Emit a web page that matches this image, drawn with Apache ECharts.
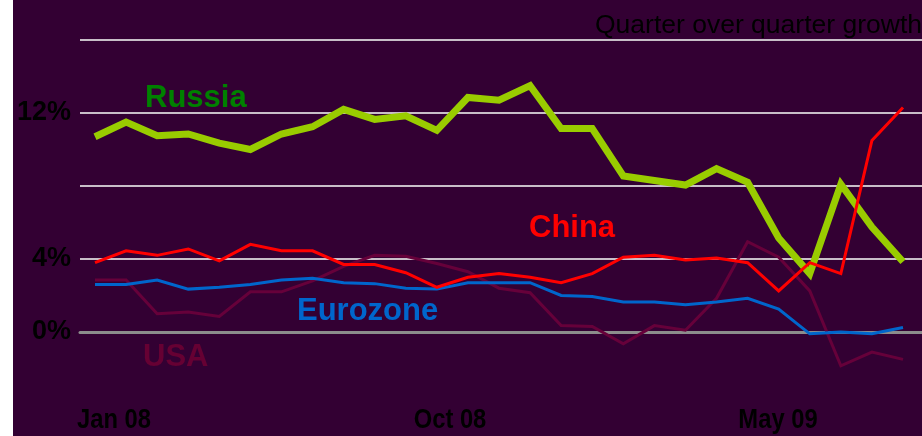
<!DOCTYPE html>
<html>
<head>
<meta charset="utf-8">
<script src="https://cdn.jsdelivr.net/npm/echarts@6/dist/echarts.min.js"></script>
<style>
  html, body { margin: 0; padding: 0; background: #ffffff; }
  #chart {
    width: 922px; height: 436px;
    background: linear-gradient(to right, #ffffff 0, #ffffff 13px, #330033 13px, #330033 100%);
  }
</style>
</head>
<body>
<div id="chart"></div>
<script>
// Quarter-over-quarter growth, 27 observations from Jan 08 onward
const periods = Array.from({ length: 27 }, (_, i) => 'P' + (i + 1));

const russia   = [10.7, 11.5, 10.75, 10.85, 10.35, 10.0, 10.85, 11.25, 12.2, 11.65, 11.85, 11.05, 12.85, 12.7, 13.5, 11.15, 11.15, 8.55, 8.3, 8.05, 8.95, 8.2, 5.15, 3.2, 8.1, 5.75, 3.85];
const china    = [3.8, 4.45, 4.2, 4.55, 3.9, 4.8, 4.45, 4.45, 3.7, 3.7, 3.25, 2.45, 3.0, 3.2, 3.0, 2.7, 3.2, 4.1, 4.2, 3.95, 4.05, 3.8, 2.25, 3.8, 3.2, 10.5, 12.3];
const eurozone = [2.6, 2.6, 2.85, 2.35, 2.45, 2.6, 2.85, 2.95, 2.7, 2.65, 2.4, 2.35, 2.7, 2.7, 2.7, 2.0, 1.95, 1.65, 1.65, 1.5, 1.65, 1.85, 1.25, -0.1, 0.0, -0.1, 0.25];
const usa      = [2.85, 2.85, 1.0, 1.1, 0.85, 2.2, 2.2, 2.8, 3.6, 4.2, 4.15, 3.75, 3.3, 2.4, 2.15, 0.35, 0.3, -0.65, 0.35, 0.1, 1.85, 4.95, 4.1, 2.25, -1.85, -1.1, -1.5];

const yTickLabels = [0, 4, 12];
const dateLabels = [
  { text: 'Jan 08', x: 114 },
  { text: 'Oct 08', x: 450 },
  { text: 'May 09', x: 778 }
];
const title = 'Quarter over quarter growth';

const chart = echarts.init(document.getElementById('chart'), null, { renderer: 'canvas' });

const baseFont = 'Liberation Sans, Arial, sans-serif';
const seriesTags = [
  { text: 'USA',      x: 143, y: 357, color: '#660033' },
  { text: 'Eurozone', x: 297, y: 311, color: '#0066cc' },
  { text: 'Russia',   x: 145, y: 98,  color: '#008000' },
  { text: 'China',    x: 529, y: 228, color: '#ff0000' }
];

const graphics = [
  {
    type: 'text', left: 595, top: 12, silent: true,
    style: { text: title, fill: '#000000', font: 'normal 26.5px ' + baseFont }
  }
].concat(seriesTags.map(t => ({
  type: 'text', x: t.x, y: t.y, silent: true,
  style: { text: t.text, fill: t.color, font: 'bold 31px ' + baseFont, align: 'left', verticalAlign: 'middle' }
}))).concat(dateLabels.map(d => ({
  // condensed bold date captions under the plot
  type: 'text', x: d.x, y: 421, scaleX: 0.88, silent: true,
  style: {
    text: d.text, fill: '#000000',
    font: 'bold 27px ' + baseFont,
    align: 'center', verticalAlign: 'middle'
  }
})));

const lineSeries = (name, data, color, width) => ({
  name, type: 'line', data,
  xAxisIndex: 1, yAxisIndex: 1,
  symbol: 'none', smooth: false,
  lineStyle: { color, width, join: 'miter' },
  emphasis: { disabled: true }
});

chart.setOption({
  animation: false,
  grid: [
    { left: 80, right: 0, top: 40, bottom: 31 },
    { left: 95, right: 19, top: 40, bottom: 31 }
  ],
  xAxis: [
    {
      gridIndex: 0, type: 'category', data: periods, boundaryGap: false,
      axisLine: { show: true, onZero: true, lineStyle: { color: '#8c8c8c', width: 3 } },
      axisTick: { show: false }, axisLabel: { show: false }, splitLine: { show: false }
    },
    {
      gridIndex: 1, type: 'category', data: periods, boundaryGap: false,
      axisLine: { show: false }, axisTick: { show: false }, axisLabel: { show: false }, splitLine: { show: false }
    }
  ],
  yAxis: [
    {
      gridIndex: 0, type: 'value', min: -4, max: 16, interval: 4,
      axisLine: { show: false }, axisTick: { show: false },
      axisLabel: {
        margin: 9, color: '#000000', fontWeight: 'bold', fontSize: 27, fontFamily: baseFont,
        formatter: v => yTickLabels.includes(v) ? v + '%' : ''
      },
      splitLine: {
        show: true,
        lineStyle: { color: ['transparent', '#8c8c8c', '#c8bec8', '#c8bec8', '#c8bec8', '#c8bec8'], width: 2 }
      }
    },
    {
      gridIndex: 1, type: 'value', min: -4, max: 16, interval: 4,
      axisLine: { show: false }, axisTick: { show: false }, axisLabel: { show: false }, splitLine: { show: false }
    }
  ],
  graphic: graphics,
  series: [
    lineSeries('USA', usa, '#66003a', 3),
    lineSeries('Eurozone', eurozone, '#0066cc', 3),
    lineSeries('Russia', russia, '#99cc00', 7),
    lineSeries('China', china, '#ff0000', 3)
  ]
});
</script>
</body>
</html>
